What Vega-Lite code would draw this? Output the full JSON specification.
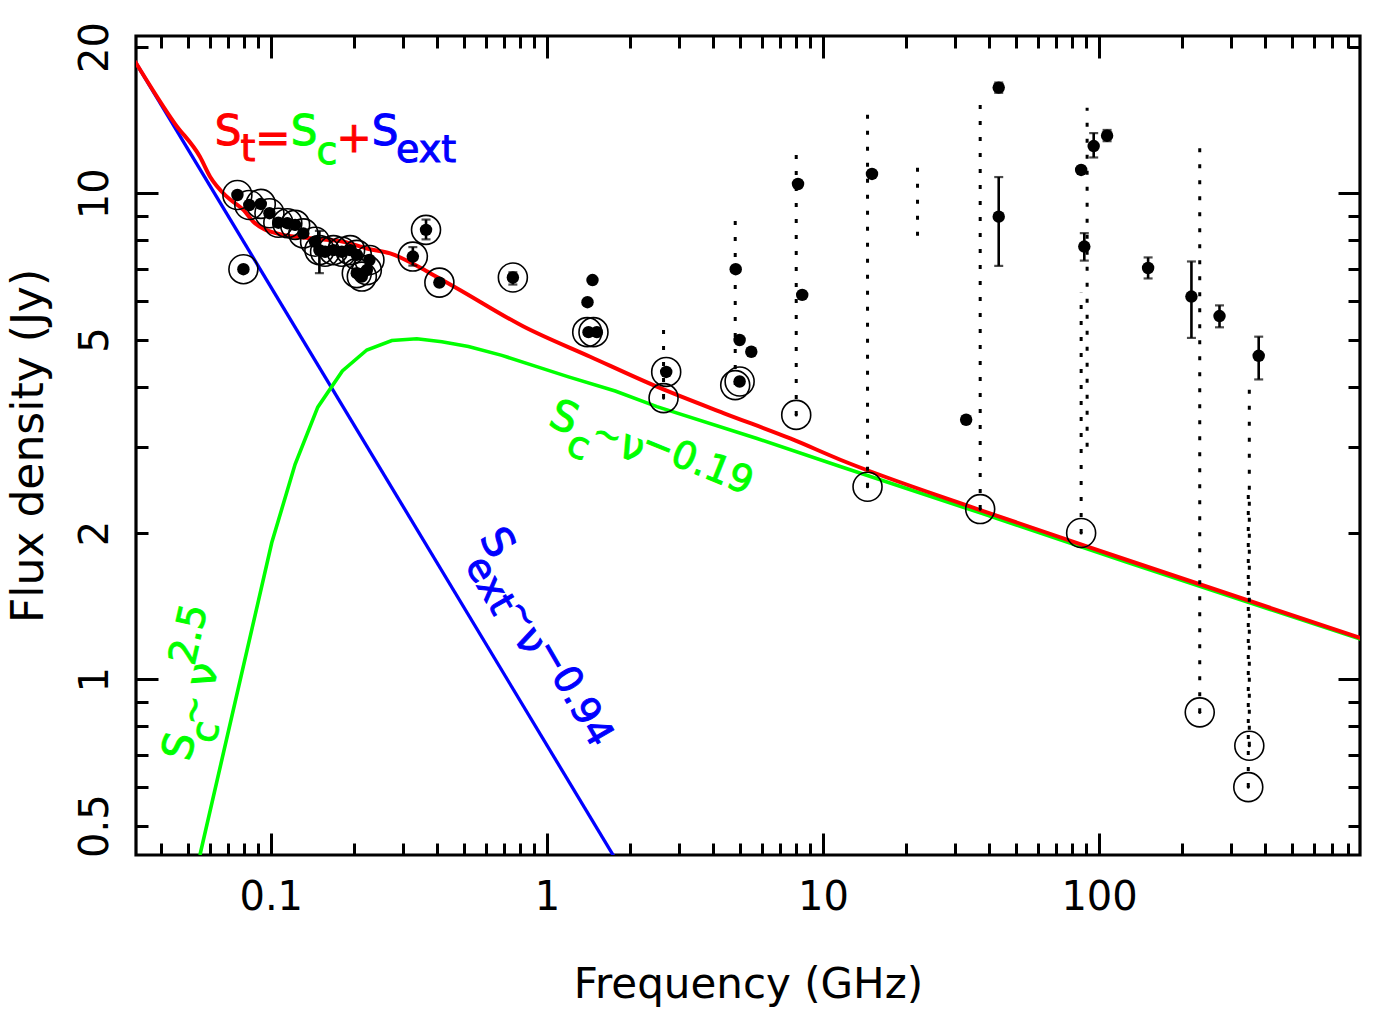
{
  "$schema": "https://vega.github.io/schema/vega-lite/v6.json",
  "width": 1224,
  "height": 819,
  "autosize": "none",
  "padding": {"left": 136, "top": 36, "right": 15, "bottom": 162},
  "background": "white",
  "config": {
    "view": {"stroke": "#000", "strokeWidth": 3.2},
    "axis": {
      "grid": false, "domain": false,
      "tickColor": "#000", "tickWidth": 3,
      "labelColor": "#000", "labelFont": "DejaVu Sans", "labelFontSize": 40,
      "titleFont": "DejaVu Sans", "titleFontSize": 42, "titleFontWeight": "normal", "titleColor": "#000",
      "labelFlush": false, "labelOverlap": false, "labelBound": false
    }
  },
  "datasets": {
    "curves": [
      {"curve": "ext", "nu": 0.0322, "s": 18.7},
      {"curve": "ext", "nu": 1.745, "s": 0.433},
      {"curve": "compact", "nu": 0.0554, "s": 0.435},
      {"curve": "compact", "nu": 0.1008, "s": 1.909},
      {"curve": "compact", "nu": 0.1225, "s": 2.77},
      {"curve": "compact", "nu": 0.148, "s": 3.63},
      {"curve": "compact", "nu": 0.1817, "s": 4.31},
      {"curve": "compact", "nu": 0.2228, "s": 4.76},
      {"curve": "compact", "nu": 0.2745, "s": 4.98},
      {"curve": "compact", "nu": 0.338, "s": 5.02},
      {"curve": "compact", "nu": 0.4165, "s": 4.95},
      {"curve": "compact", "nu": 0.52, "s": 4.84},
      {"curve": "compact", "nu": 0.687, "s": 4.64},
      {"curve": "compact", "nu": 0.907, "s": 4.41},
      {"curve": "compact", "nu": 1.198, "s": 4.19},
      {"curve": "compact", "nu": 1.768, "s": 3.92},
      {"curve": "compact", "nu": 2.503, "s": 3.64},
      {"curve": "compact", "nu": 5.77, "s": 3.13},
      {"curve": "compact", "nu": 11.55, "s": 2.74},
      {"curve": "compact", "nu": 37.1, "s": 2.2},
      {"curve": "compact", "nu": 126.3, "s": 1.74},
      {"curve": "compact", "nu": 884, "s": 1.21},
      {"curve": "total", "nu": 0.0322, "s": 18.7},
      {"curve": "total", "nu": 0.045, "s": 13.9},
      {"curve": "total", "nu": 0.0554, "s": 11.89},
      {"curve": "total", "nu": 0.0603, "s": 10.82},
      {"curve": "total", "nu": 0.0693, "s": 9.84},
      {"curve": "total", "nu": 0.0796, "s": 9.24},
      {"curve": "total", "nu": 0.0865, "s": 8.74},
      {"curve": "total", "nu": 0.1051, "s": 8.27},
      {"curve": "total", "nu": 0.1388, "s": 8.08},
      {"curve": "total", "nu": 0.1833, "s": 7.95},
      {"curve": "total", "nu": 0.2228, "s": 7.7},
      {"curve": "total", "nu": 0.2706, "s": 7.52},
      {"curve": "total", "nu": 0.3777, "s": 6.85},
      {"curve": "total", "nu": 0.4719, "s": 6.38},
      {"curve": "total", "nu": 0.823, "s": 5.32},
      {"curve": "total", "nu": 1.435, "s": 4.61},
      {"curve": "total", "nu": 2.503, "s": 4.0},
      {"curve": "total", "nu": 4.36, "s": 3.53},
      {"curve": "total", "nu": 7.61, "s": 3.13},
      {"curve": "total", "nu": 11.55, "s": 2.83},
      {"curve": "total", "nu": 37.1, "s": 2.23},
      {"curve": "total", "nu": 126.3, "s": 1.76},
      {"curve": "total", "nu": 884, "s": 1.216}
    ],
    "dots": [
      {"nu": 0.0757, "s": 9.92}, {"nu": 0.0836, "s": 9.46}, {"nu": 0.092, "s": 9.51},
      {"nu": 0.0989, "s": 9.1}, {"nu": 0.1065, "s": 8.7}, {"nu": 0.1148, "s": 8.68},
      {"nu": 0.1225, "s": 8.61}, {"nu": 0.1312, "s": 8.27}, {"nu": 0.1447, "s": 7.95},
      {"nu": 0.15, "s": 7.64, "lo": 6.85, "hi": 8.37}, {"nu": 0.1573, "s": 7.58},
      {"nu": 0.1686, "s": 7.64}, {"nu": 0.1808, "s": 7.58}, {"nu": 0.1938, "s": 7.64},
      {"nu": 0.2049, "s": 7.47}, {"nu": 0.2049, "s": 6.85}, {"nu": 0.2137, "s": 6.74},
      {"nu": 0.2228, "s": 6.95}, {"nu": 0.2277, "s": 7.29}, {"nu": 0.0796, "s": 6.98},
      {"nu": 0.327, "s": 7.41, "lo": 7.1, "hi": 7.75},
      {"nu": 0.365, "s": 8.41, "lo": 8.04, "hi": 8.83},
      {"nu": 0.408, "s": 6.55},
      {"nu": 0.753, "s": 6.71, "lo": 6.49, "hi": 6.88},
      {"nu": 1.463, "s": 6.63}, {"nu": 1.403, "s": 5.97},
      {"nu": 1.415, "s": 5.18}, {"nu": 1.517, "s": 5.18},
      {"nu": 2.705, "s": 4.29},
      {"nu": 4.83, "s": 6.98}, {"nu": 4.99, "s": 4.99}, {"nu": 5.5, "s": 4.72}, {"nu": 4.99, "s": 4.1},
      {"nu": 8.12, "s": 10.45}, {"nu": 8.41, "s": 6.18},
      {"nu": 15.05, "s": 10.96},
      {"nu": 33.0, "s": 3.42},
      {"nu": 43.3, "s": 16.5, "lo": 16.1, "hi": 16.9},
      {"nu": 43.3, "s": 8.95, "lo": 7.09, "hi": 10.8},
      {"nu": 86.1, "s": 11.17},
      {"nu": 95.6, "s": 12.51, "lo": 11.85, "hi": 13.3},
      {"nu": 106.9, "s": 13.14, "lo": 12.8, "hi": 13.5},
      {"nu": 88.4, "s": 7.77, "lo": 7.27, "hi": 8.28},
      {"nu": 150.5, "s": 7.02, "lo": 6.68, "hi": 7.38},
      {"nu": 216, "s": 6.13, "lo": 5.04, "hi": 7.24},
      {"nu": 273, "s": 5.59, "lo": 5.3, "hi": 5.88},
      {"nu": 378.5, "s": 4.63, "lo": 4.14, "hi": 5.07}
    ],
    "fitted": [
      {"nu": 0.0757, "s": 9.92}, {"nu": 0.0836, "s": 9.46}, {"nu": 0.092, "s": 9.51},
      {"nu": 0.0989, "s": 9.1}, {"nu": 0.1065, "s": 8.7}, {"nu": 0.1148, "s": 8.68},
      {"nu": 0.1225, "s": 8.61}, {"nu": 0.1312, "s": 8.27}, {"nu": 0.1447, "s": 7.95},
      {"nu": 0.15, "s": 7.64}, {"nu": 0.1573, "s": 7.58},
      {"nu": 0.1686, "s": 7.64}, {"nu": 0.1808, "s": 7.58}, {"nu": 0.1938, "s": 7.64},
      {"nu": 0.2049, "s": 7.47}, {"nu": 0.2049, "s": 6.85}, {"nu": 0.2137, "s": 6.74},
      {"nu": 0.2228, "s": 6.95}, {"nu": 0.2277, "s": 7.29}, {"nu": 0.0796, "s": 6.98},
      {"nu": 0.327, "s": 7.41}, {"nu": 0.365, "s": 8.41}, {"nu": 0.408, "s": 6.55},
      {"nu": 0.753, "s": 6.71}, {"nu": 1.4, "s": 5.18}, {"nu": 1.475, "s": 5.18},
      {"nu": 2.705, "s": 4.29}, {"nu": 4.99, "s": 4.1}, {"nu": 4.81, "s": 4.03}
    ],
    "ranges": [
      {"nu": 2.646, "smin": 3.79, "smax": 5.4},
      {"nu": 4.81, "smin": 4.03, "smax": 9.02},
      {"nu": 8.0, "smin": 3.5, "smax": 12.5},
      {"nu": 14.5, "smin": 2.49, "smax": 15.0},
      {"nu": 22.0, "smin": 8.18, "smax": 11.75},
      {"nu": 37.1, "smin": 2.24, "smax": 15.5},
      {"nu": 90.5, "smin": 3.01, "smax": 15.0},
      {"nu": 86.1, "smin": 2.0, "smax": 6.24},
      {"nu": 231.5, "smin": 0.855, "smax": 13.0},
      {"nu": 350, "smin": 0.73, "smax": 4.04},
      {"nu": 347, "smin": 0.6, "smax": 2.52}
    ],
    "minima": [
      {"nu": 2.646, "s": 3.79}, {"nu": 8.0, "s": 3.5}, {"nu": 14.5, "s": 2.49},
      {"nu": 37.1, "s": 2.24}, {"nu": 86.1, "s": 2.0}, {"nu": 231.5, "s": 0.855},
      {"nu": 350, "s": 0.73}, {"nu": 347, "s": 0.6}
    ],
    "notes": [
      {"note": "sum", "role": "main", "comp": "total", "txt": "S", "nu": 0.07002, "s": 13.37},
      {"note": "sum", "role": "script", "comp": "total", "txt": "t", "nu": 0.0827, "s": 12.28},
      {"note": "sum", "role": "main", "comp": "total", "txt": "=", "nu": 0.1018, "s": 12.93},
      {"note": "sum", "role": "main", "comp": "compact", "txt": "S", "nu": 0.1319, "s": 13.37},
      {"note": "sum", "role": "script", "comp": "compact", "txt": "c", "nu": 0.1599, "s": 12.11},
      {"note": "sum", "role": "main", "comp": "total", "txt": "+", "nu": 0.2002, "s": 12.93},
      {"note": "sum", "role": "main", "comp": "extended", "txt": "S", "nu": 0.2593, "s": 13.37},
      {"note": "sum", "role": "script", "comp": "extended", "txt": "ext", "nu": 0.365, "s": 12.22},
      {"note": "thin", "role": "main", "comp": "compact", "txt": "S", "nu": 1.154, "s": 3.449},
      {"note": "thin", "role": "script", "comp": "compact", "txt": "c", "nu": 1.297, "s": 3.006},
      {"note": "thin", "role": "wave", "comp": "compact", "txt": "~", "nu": 1.652, "s": 3.167},
      {"note": "thin", "role": "main", "comp": "compact", "txt": "ν", "nu": 2.034, "s": 3.006},
      {"note": "thin", "role": "script", "comp": "compact", "txt": "−0.19", "nu": 3.499, "s": 2.787},
      {"note": "ext", "role": "main", "comp": "extended", "txt": "S", "nu": 0.6582, "s": 1.909},
      {"note": "ext", "role": "script", "comp": "extended", "txt": "ext", "nu": 0.6172, "s": 1.558},
      {"note": "ext", "role": "wave", "comp": "extended", "txt": "~", "nu": 0.8218, "s": 1.361},
      {"note": "ext", "role": "main", "comp": "extended", "txt": "ν", "nu": 0.869, "s": 1.199},
      {"note": "ext", "role": "script", "comp": "extended", "txt": "−0.94", "nu": 1.247, "s": 0.9376},
      {"note": "thick", "role": "main", "comp": "compact", "txt": "S", "nu": 0.04692, "s": 0.7276},
      {"note": "thick", "role": "script", "comp": "compact", "txt": "c", "nu": 0.05861, "s": 0.7791},
      {"note": "thick", "role": "wave", "comp": "compact", "txt": "~", "nu": 0.05284, "s": 0.8646},
      {"note": "thick", "role": "main", "comp": "compact", "txt": "ν", "nu": 0.05697, "s": 1.0206},
      {"note": "thick", "role": "script", "comp": "compact", "txt": "2.5", "nu": 0.05098, "s": 1.236}
    ]
  },
  "resolve": {"axis": {"x": "independent", "y": "independent"}},
  "layer": [
    {
      "data": {"name": "curves"},
      "transform": [{"filter": "datum.curve === 'ext'"}],
      "mark": {"type": "line", "color": "#0000ff", "strokeWidth": 3.3, "clip": true},
      "encoding": {
        "x": {"field": "nu", "type": "quantitative",
              "scale": {"type": "log", "domain": [0.0325, 881], "nice": false, "zero": false},
              "axis": {"orient": "bottom", "values": [0.1, 1, 10, 100], "tickSize": -22, "labels": false, "title": null}},
        "y": {"field": "s", "type": "quantitative",
              "scale": {"type": "log", "domain": [0.435, 21.07], "nice": false, "zero": false},
              "axis": {"orient": "left", "values": [1, 10], "tickSize": -22, "labels": false, "title": null}}
      }
    },
    {
      "data": {"name": "curves"},
      "transform": [{"filter": "datum.curve === 'compact'"}],
      "mark": {"type": "line", "color": "#00ff00", "strokeWidth": 3.6, "clip": true},
      "encoding": {
        "x": {"field": "nu", "type": "quantitative",
              "axis": {"orient": "bottom", "values": [0.04, 0.05, 0.06, 0.07, 0.08, 0.09, 0.2, 0.3, 0.4, 0.5, 0.6, 0.7, 0.8, 0.9, 2, 3, 4, 5, 6, 7, 8, 9, 20, 30, 40, 50, 60, 70, 80, 90, 200, 300, 400, 500, 600, 700, 800], "tickSize": -12, "labels": false, "title": null}},
        "y": {"field": "s", "type": "quantitative",
              "axis": {"orient": "left", "values": [0.5, 0.6, 0.7, 0.8, 0.9, 2, 3, 4, 5, 6, 7, 8, 9, 20], "tickSize": -12, "labels": false, "title": null}}
      }
    },
    {
      "data": {"name": "curves"},
      "transform": [{"filter": "datum.curve === 'total'"}],
      "mark": {"type": "line", "color": "#ff0000", "strokeWidth": 4, "clip": true, "interpolate": "monotone"},
      "encoding": {
        "x": {"field": "nu", "type": "quantitative",
              "axis": {"orient": "bottom", "values": [0.1, 1, 10, 100], "ticks": false, "labels": true, "format": "~g",
                       "labelPadding": 54, "labelBaseline": "alphabetic", "labelAlign": "center",
                       "title": "Frequency (GHz)", "titleX": 612, "titleY": 142, "titleBaseline": "alphabetic", "titleAlign": "center"}},
        "y": {"field": "s", "type": "quantitative",
              "axis": {"orient": "left", "values": [0.5, 1, 2, 5, 10, 20], "ticks": false, "labels": true, "format": "~g",
                       "labelAngle": -90, "labelPadding": 29, "labelBaseline": "alphabetic", "labelAlign": "center",
                       "title": "Flux density (Jy)", "titleFontSize": 44, "titleAngle": -90, "titleX": -94, "titleY": 409.5, "titleBaseline": "alphabetic", "titleAlign": "center"}}
      }
    },
    {
      "data": {"name": "ranges"},
      "mark": {"type": "rule", "color": "#000", "strokeWidth": 3, "strokeDash": [4, 12]},
      "encoding": {
        "x": {"field": "nu", "type": "quantitative",
              "axis": {"orient": "top", "values": [0.1, 1, 10, 100], "tickSize": -22, "labels": false, "title": null}},
        "y": {"field": "smin", "type": "quantitative",
              "axis": {"orient": "right", "values": [1, 10], "tickSize": -22, "labels": false, "title": null}},
        "y2": {"field": "smax"}
      }
    },
    {
      "data": {"name": "dots"},
      "transform": [{"filter": {"field": "lo", "valid": true}}],
      "mark": {"type": "rule", "color": "#000", "strokeWidth": 2.6},
      "encoding": {
        "x": {"field": "nu", "type": "quantitative",
              "axis": {"orient": "top", "values": [0.04, 0.05, 0.06, 0.07, 0.08, 0.09, 0.2, 0.3, 0.4, 0.5, 0.6, 0.7, 0.8, 0.9, 2, 3, 4, 5, 6, 7, 8, 9, 20, 30, 40, 50, 60, 70, 80, 90, 200, 300, 400, 500, 600, 700, 800], "tickSize": -12, "labels": false, "title": null}},
        "y": {"field": "lo", "type": "quantitative",
              "axis": {"orient": "right", "values": [0.5, 0.6, 0.7, 0.8, 0.9, 2, 3, 4, 5, 6, 7, 8, 9, 20], "tickSize": -12, "labels": false, "title": null}},
        "y2": {"field": "hi"}
      }
    },
    {
      "data": {"name": "dots"},
      "transform": [{"filter": {"field": "lo", "valid": true}}],
      "mark": {"type": "tick", "orient": "horizontal", "color": "#000", "size": 9, "thickness": 2.2},
      "encoding": {
        "x": {"field": "nu", "type": "quantitative", "axis": null},
        "y": {"field": "lo", "type": "quantitative", "axis": null}
      }
    },
    {
      "data": {"name": "dots"},
      "transform": [{"filter": {"field": "hi", "valid": true}}],
      "mark": {"type": "tick", "orient": "horizontal", "color": "#000", "size": 9, "thickness": 2.2},
      "encoding": {
        "x": {"field": "nu", "type": "quantitative", "axis": null},
        "y": {"field": "hi", "type": "quantitative", "axis": null}
      }
    },
    {
      "data": {"name": "dots"},
      "mark": {"type": "point", "shape": "circle", "filled": true, "color": "#000", "size": 155, "opacity": 1},
      "encoding": {
        "x": {"field": "nu", "type": "quantitative", "axis": null},
        "y": {"field": "s", "type": "quantitative", "axis": null}
      }
    },
    {
      "data": {"name": "fitted"},
      "mark": {"type": "point", "shape": "circle", "filled": false, "color": "#000", "size": 840, "strokeWidth": 1.6, "opacity": 1},
      "encoding": {
        "x": {"field": "nu", "type": "quantitative", "axis": null},
        "y": {"field": "s", "type": "quantitative", "axis": null}
      }
    },
    {
      "data": {"name": "minima"},
      "mark": {"type": "point", "shape": "circle", "filled": false, "color": "#000", "size": 840, "strokeWidth": 1.6, "opacity": 1},
      "encoding": {
        "x": {"field": "nu", "type": "quantitative", "axis": null},
        "y": {"field": "s", "type": "quantitative", "axis": null}
      }
    },
    {
      "data": {"name": "minima"},
      "mark": {"type": "point", "shape": "circle", "filled": true, "color": "#000", "size": 10, "opacity": 1},
      "encoding": {
        "x": {"field": "nu", "type": "quantitative", "axis": null},
        "y": {"field": "s", "type": "quantitative", "axis": null}
      }
    },
    {
      "data": {"name": "notes"},
      "transform": [{"filter": "datum.note === 'sum'"}],
      "mark": {"type": "text", "font": "DejaVu Sans", "align": "center", "baseline": "middle", "angle": 0, "strokeWidth": 1},
      "encoding": {
        "x": {"field": "nu", "type": "quantitative", "axis": null},
        "y": {"field": "s", "type": "quantitative", "axis": null},
        "text": {"field": "txt"},
        "color": {"field": "comp", "type": "nominal", "legend": null,
                  "scale": {"domain": ["total", "compact", "extended"], "range": ["#ff0000", "#00ff00", "#0000ff"]}},
        "stroke": {"field": "comp", "type": "nominal", "legend": null,
                  "scale": {"domain": ["total", "compact", "extended"], "range": ["#ff0000", "#00ff00", "#0000ff"]}},
        "size": {"field": "role", "type": "nominal", "legend": null,
                 "scale": {"domain": ["main", "script", "wave"], "range": [42, 34, 50]}}
      }
    },
    {
      "data": {"name": "notes"},
      "transform": [{"filter": "datum.note === 'thin'"}],
      "mark": {"type": "text", "font": "DejaVu Sans", "align": "center", "baseline": "middle", "angle": 22, "strokeWidth": 1},
      "encoding": {
        "x": {"field": "nu", "type": "quantitative", "axis": null},
        "y": {"field": "s", "type": "quantitative", "axis": null},
        "text": {"field": "txt"},
        "color": {"field": "comp", "type": "nominal", "legend": null},
        "stroke": {"field": "comp", "type": "nominal", "legend": null},
        "size": {"field": "role", "type": "nominal", "legend": null}
      }
    },
    {
      "data": {"name": "notes"},
      "transform": [{"filter": "datum.note === 'ext'"}],
      "mark": {"type": "text", "font": "DejaVu Sans", "align": "center", "baseline": "middle", "angle": 60, "strokeWidth": 1},
      "encoding": {
        "x": {"field": "nu", "type": "quantitative", "axis": null},
        "y": {"field": "s", "type": "quantitative", "axis": null},
        "text": {"field": "txt"},
        "color": {"field": "comp", "type": "nominal", "legend": null},
        "stroke": {"field": "comp", "type": "nominal", "legend": null},
        "size": {"field": "role", "type": "nominal", "legend": null}
      }
    },
    {
      "data": {"name": "notes"},
      "transform": [{"filter": "datum.note === 'thick'"}],
      "mark": {"type": "text", "font": "DejaVu Sans", "align": "center", "baseline": "middle", "angle": -77, "strokeWidth": 1},
      "encoding": {
        "x": {"field": "nu", "type": "quantitative", "axis": null},
        "y": {"field": "s", "type": "quantitative", "axis": null},
        "text": {"field": "txt"},
        "color": {"field": "comp", "type": "nominal", "legend": null},
        "stroke": {"field": "comp", "type": "nominal", "legend": null},
        "size": {"field": "role", "type": "nominal", "legend": null}
      }
    }
  ]
}
